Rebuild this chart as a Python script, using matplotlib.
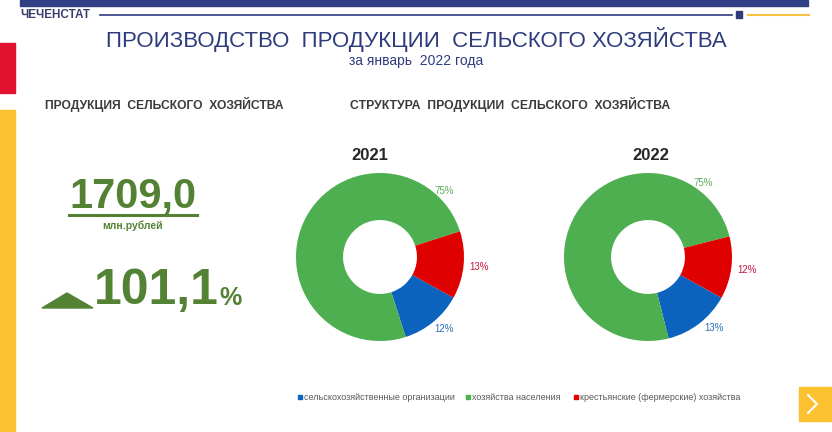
import matplotlib.pyplot as plt
from matplotlib.patches import Rectangle, Polygon
import numpy as np

# data
years = ["2021", "2022"]
categories = ["сельскохозяйственные организации", "хозяйства населения",
              "крестьянские (фермерские) хозяйства"]
shares = {"2021": [12, 75, 13], "2022": [13, 75, 12]}
total_value = "1709,0"
growth = "101,1"

slice_colors = ["#0B63BE", "#4DAF4F", "#DF0000"]
label_colors = ["#2F6EB5", "#5DAE5D", "#C8173E"]
navy = "#2E3C7E"
dgreen = "#548235"

plt.rcParams['font.family'] = ['Liberation Sans', 'DejaVu Sans']

fig = plt.figure(figsize=(8.32, 4.32), dpi=100)
bg = fig.add_axes([0, 0, 1, 1])
bg.set_xlim(0, 832)
bg.set_ylim(432, 0)
bg.axis("off")

# frame decorations
bg.add_patch(Rectangle((20, 0), 788, 6, color="#313F84"))
bg.plot([100, 732], [14.5, 14.5], color=navy, lw=1.2)
bg.add_patch(Rectangle((736, 11), 6, 7, color=navy))
bg.plot([748, 809], [14.5, 14.5], color="#F6C342", lw=1.5)
bg.add_patch(Rectangle((0, 43), 15, 50, color="#E0122F"))
bg.add_patch(Rectangle((0, 110), 15, 322, color="#FBC12E"))
bg.add_patch(Rectangle((799, 387), 33, 34, color="#FBC12E"))
bg.plot([808, 817, 808], [395, 404, 413], color="white", lw=1.5)
bg.text(20, 15, "ЧЕЧЕНСТАТ", fontsize=8.5, fontweight="bold", color="#3A3F6B",
        va="center", ha="left")

# titles
bg.text(416, 40, "ПРОИЗВОДСТВО  ПРОДУКЦИИ  СЕЛЬСКОГО ХОЗЯЙСТВА", fontsize=16,
        color=navy, ha="center", va="center")
bg.text(416, 61, "за январь  2022 года", fontsize=10, color=navy,
        ha="center", va="center")
bg.text(164, 105, "ПРОДУКЦИЯ  СЕЛЬСКОГО  ХОЗЯЙСТВА", fontsize=8.7,
        fontweight="bold", color="#3B3B3B", ha="center", va="center")
bg.text(510, 105, "СТРУКТУРА  ПРОДУКЦИИ  СЕЛЬСКОГО  ХОЗЯЙСТВА", fontsize=8.8,
        fontweight="bold", color="#3B3B3B", ha="center", va="center")

# left indicators
bg.text(133, 196, total_value, fontsize=30, fontweight="bold", color=dgreen,
        ha="center", va="center")
bg.plot([69, 197], [215, 215], color=dgreen, lw=2.2)
bg.text(133, 226, "млн.рублей", fontsize=7.5, fontweight="bold", color=dgreen,
        ha="center", va="center")
bg.add_patch(Polygon([[42, 308], [67, 293], [93, 308]], color=dgreen))
bg.text(94, 291, growth, fontsize=36, fontweight="bold", color=dgreen,
        ha="left", va="center")
bg.text(219, 298, "%", fontsize=18, fontweight="bold", color=dgreen,
        ha="left", va="center")

# donuts
centers = [(380, 257), (648, 257)]
green_label_angle = [46, 53]
R = 84
for k, (yr, (cx, cy)) in enumerate(zip(years, centers)):
    ax = fig.add_axes([(cx - R) / 832, (432 - cy - R) / 432, 2 * R / 832, 2 * R / 432])
    wedges, _ = ax.pie(shares[yr], colors=slice_colors, startangle=-29,
                       counterclock=False, radius=1,
                       wedgeprops=dict(width=0.56, edgecolor="none"))
    ax.set_xlim(-1, 1)
    ax.set_ylim(-1, 1)
    ax.set_aspect("equal")
    for i, w in enumerate(wedges):
        lo, hi = sorted([w.theta1, w.theta2])
        if i == 1:
            ang = np.deg2rad(green_label_angle[k])
            rr, dx = 1.1, 0.0
        elif i == 0:
            ang = np.deg2rad((lo + hi) / 2 + 3 * k)
            rr, dx = 1.11, 0.06
        else:
            ang = np.deg2rad((lo + hi) / 2)
            rr, dx = 1.19, 0.0
        ax.text(rr * np.cos(ang) + dx, rr * np.sin(ang),
                f"{shares[yr][i]}%", fontsize=7, color=label_colors[i],
                ha="center", va="center")
    bg.text(cx - 10 if yr == "2021" else cx + 3, 155, yr, fontsize=12,
            fontweight="bold", color="#262626", ha="center", va="center")

# legend
leg_x = [298, 466, 574]
for x, name, c in zip(leg_x, categories, slice_colors):
    bg.add_patch(Rectangle((x, 395), 4, 4, color=c))
    bg.text(x + 6, 397.5, name, fontsize=6.5, color="#595959", ha="left", va="center")

fig.savefig("out.png", dpi=100)
